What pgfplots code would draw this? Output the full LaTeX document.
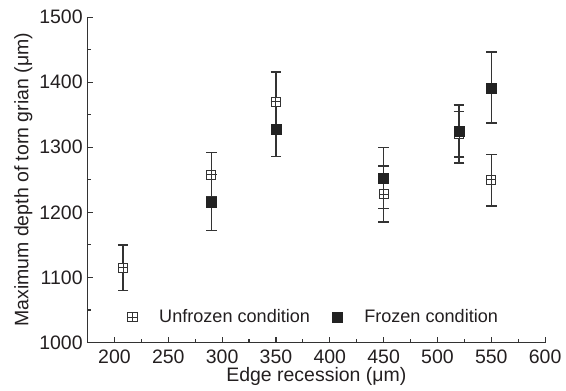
\documentclass[border=0pt]{standalone}
\usepackage{fontspec}
\setmainfont{Liberation Sans}
\usepackage{pgfplots}
\usepackage{pgfplotstable}
\pgfplotsset{compat=1.18}
\definecolor{ax}{HTML}{333333}
\definecolor{mk}{HTML}{222222}
\definecolor{txt}{HTML}{231F20}
\pgfdeclareplotmark{sqplus}{%
  \pgfpathrectangle{\pgfqpoint{-\pgfplotmarksize}{-\pgfplotmarksize}}{\pgfqpoint{2\pgfplotmarksize}{2\pgfplotmarksize}}%
  \pgfusepathqfillstroke
  \pgfpathmoveto{\pgfqpoint{-\pgfplotmarksize}{0pt}}\pgfpathlineto{\pgfqpoint{\pgfplotmarksize}{0pt}}%
  \pgfpathmoveto{\pgfqpoint{0pt}{-\pgfplotmarksize}}\pgfpathlineto{\pgfqpoint{0pt}{\pgfplotmarksize}}%
  \pgfusepathqstroke}
\pgfplotstableread{
x y ep em
208 1115 35 35
290 1258 34 34
350 1370 46 46
450 1228 43 43
520 1320 35 35
550 1250 39 40
}\unfrozen
\pgfplotstableread{
x y ep em
290 1215 43 43
350 1328 42 42
450 1253 47 47
520 1325 40 49
550 1391 55 54
}\frozen
\begin{document}
\begin{tikzpicture}[font=\fontsize{14}{16}\selectfont, text=txt]
\begin{axis}[
  scale only axis, width=329pt, height=234pt,
  xmin=175, xmax=600, ymin=1000, ymax=1500,
  axis lines=left, axis line style={-, line width=0.9pt, ax},
  xtick={200,250,...,600}, ytick={1000,1100,...,1500},
  minor x tick num=1, minor y tick num=1,
  tick align=inside, major tick length=3.8pt, minor tick length=2.2pt,
  every tick/.style={line width=0.8pt, ax},
  /pgf/number format/assume math mode=true,
  /pgf/number format/1000 sep={},
  xticklabel style={yshift=-1.5pt},
  xlabel={Edge recession (μm)},
  ylabel={Maximum depth of torn grian (μm)},
  ylabel style={yshift=-2pt},
  xlabel style={yshift=4pt},
  legend style={at={(rel axis cs:0.071,0.078)}, anchor=west, draw=none, fill=none,
    inner sep=0pt, font=\fontsize{13}{15}\selectfont,
    legend columns=2, /tikz/every even column/.append style={column sep=9pt}},
  legend cell align=left,
  legend image code/.code={\path (0cm,-2pt) (0.9cm,2pt); \draw[#1] plot[only marks] coordinates {(0.3cm,0cm)};},
]
% error bars
\addplot[forget plot, draw=none, mark=none, ax,
  error bars/.cd, y dir=both, y explicit,
  error bar style={line width=1.1pt, ax},
  error mark options={rotate=90, mark size=3.8pt, line width=1.1pt, ax}]
  table[x=x, y=y, y error plus=ep, y error minus=em] {\unfrozen};
\addplot[forget plot, draw=none, mark=none, ax,
  error bars/.cd, y dir=both, y explicit,
  error bar style={line width=1.1pt, ax},
  error mark options={rotate=90, mark size=3.8pt, line width=1.1pt, ax}]
  table[x=x, y=y, y error plus=ep, y error minus=em] {\frozen};
% markers
\addplot[only marks, mark=sqplus, mark size=3.3pt, mark options={draw=ax, fill=white, line width=0.7pt}]
  table[x=x, y=y] {\unfrozen};
\addlegendentry{Unfrozen condition}
\addplot[only marks, mark=square*, mark size=3.6pt, mark options={draw=mk, fill=mk, line width=0.5pt}]
  table[x=x, y=y] {\frozen};
\addlegendentry{Frozen condition}
\end{axis}
\path ([xshift=-7pt,yshift=4pt]current bounding box.north west);
\end{tikzpicture}
\end{document}
